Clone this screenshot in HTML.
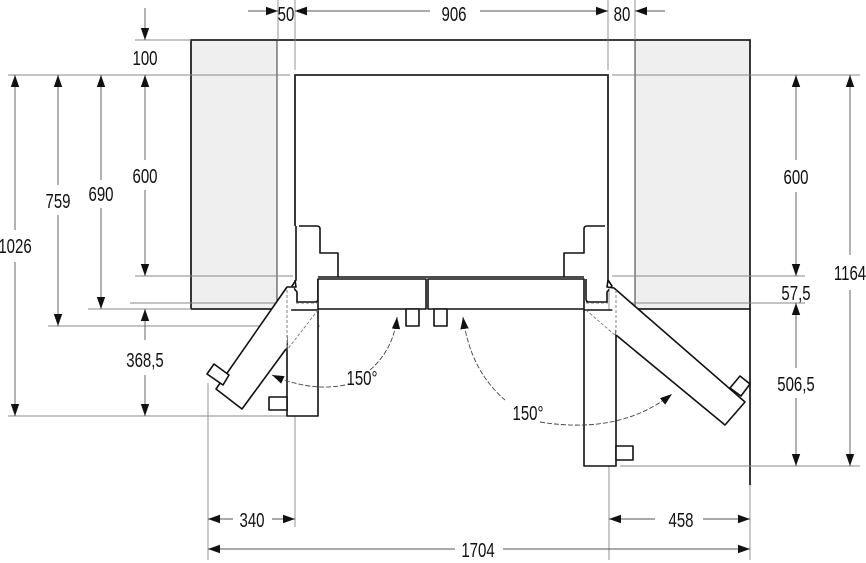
<!DOCTYPE html>
<html><head><meta charset="utf-8"><style>
html,body{margin:0;padding:0;background:#fff;}
svg{display:block;}
text{font-family:"Liberation Sans",sans-serif;font-size:20px;fill:#111;}
</style></head><body>
<svg width="866" height="563" viewBox="0 0 866 563" xmlns="http://www.w3.org/2000/svg">
<defs>
<marker id="a" viewBox="0 0 10 10" refX="10" refY="5" markerWidth="12" markerHeight="12" markerUnits="userSpaceOnUse" orient="auto-start-reverse"><path d="M0,1.5 L10,5 L0,8.5 z" fill="#111"/></marker>
</defs>
<rect x="191" y="40" width="86" height="269" fill="#efefef"/>
<rect x="635" y="40" width="115" height="269" fill="#efefef"/>
<g stroke="#222" stroke-width="1.8" fill="none">
<path d="M191,309 V40 H750 V485"/>
<line x1="191" y1="309" x2="287" y2="309"/>
<line x1="616" y1="309" x2="750" y2="309"/>
<path d="M295,226 V75 H608 V226"/>
</g>
<line x1="277" y1="40" x2="277" y2="309" stroke="#333" stroke-width="1"/>
<line x1="635" y1="40" x2="635" y2="309" stroke="#333" stroke-width="1"/>
<g stroke="#888" stroke-width="0.9" fill="none">
<line x1="8" y1="75" x2="290" y2="75"/><line x1="612" y1="75" x2="860" y2="75"/>
<line x1="135" y1="40" x2="191" y2="40"/>
<line x1="135" y1="276" x2="293" y2="276"/><line x1="612" y1="276" x2="805" y2="276"/>
<line x1="130" y1="303" x2="290" y2="303"/><line x1="612" y1="303" x2="805" y2="303"/>
<line x1="88" y1="309" x2="191" y2="309"/>
<line x1="48" y1="326" x2="320" y2="326"/>
<line x1="8" y1="416" x2="290" y2="416"/>
<line x1="620" y1="466" x2="860" y2="466"/>
<line x1="278" y1="0" x2="278" y2="40"/>
<line x1="295" y1="0" x2="295" y2="70"/>
<line x1="608" y1="0" x2="608" y2="70"/>
<line x1="635" y1="0" x2="635" y2="40"/>
<line x1="208" y1="383" x2="208" y2="560"/>
<line x1="295" y1="310" x2="295" y2="527"/>
<line x1="609" y1="290" x2="609" y2="560"/>
<line x1="750" y1="485" x2="750" y2="560"/>
</g>
<g stroke="#555" stroke-width="0.9" fill="none" marker-end="url(#a)">
<line x1="248" y1="11" x2="278" y2="11"/>
<line x1="325" y1="11" x2="295" y2="11"/>
<line x1="430" y1="11" x2="295" y2="11"/>
<line x1="480" y1="11" x2="608" y2="11"/>
<line x1="665" y1="11" x2="635" y2="11"/>
<line x1="145" y1="8" x2="145" y2="40"/>
<line x1="145" y1="160" x2="145" y2="75"/><line x1="145" y1="190" x2="145" y2="276"/>
<line x1="145" y1="340" x2="145" y2="309"/><line x1="145" y1="375" x2="145" y2="416"/>
<line x1="101" y1="180" x2="101" y2="75"/><line x1="101" y1="208" x2="101" y2="309"/>
<line x1="58" y1="185" x2="58" y2="75"/><line x1="58" y1="215" x2="58" y2="326"/>
<line x1="15" y1="230" x2="15" y2="75"/><line x1="15" y1="262" x2="15" y2="416"/>
<line x1="796" y1="160" x2="796" y2="75"/><line x1="796" y1="192" x2="796" y2="276"/>
<line x1="796" y1="368" x2="796" y2="303"/><line x1="796" y1="398" x2="796" y2="466"/>
<line x1="850" y1="255" x2="850" y2="75"/><line x1="850" y1="290" x2="850" y2="466"/>
<line x1="233" y1="519" x2="208" y2="519"/><line x1="272" y1="519" x2="295" y2="519"/>
<line x1="655" y1="519" x2="609" y2="519"/><line x1="703" y1="519" x2="750" y2="519"/>
<line x1="455" y1="549" x2="208" y2="549"/><line x1="503" y1="549" x2="750" y2="549"/>
</g>
<g stroke="#111" stroke-width="1.6" fill="#fff" stroke-linejoin="round">
<path d="M299,226 H317 Q320,226 320,229 V253 H338 V277"/>
<path d="M296,226 V280 L292,286 L297,292 V302 H315 Q318,302 318,299 V279"/>
<path d="M605,226 H587 Q584,226 584,229 V253 H564 V277"/>
<path d="M608,226 V280 L612,286 L607,292 V302 H589 Q586,302 586,299 V279"/>
<line x1="318" y1="277" x2="584" y2="277"/>
<rect x="318" y="279" width="108" height="30"/>
<rect x="428" y="279" width="156" height="30"/>
<rect x="406" y="309" width="13" height="17"/>
<rect x="434" y="309" width="13" height="17"/>
<rect x="287" y="310" width="31" height="106"/>
<rect x="269" y="397" width="18" height="13"/>
<path d="M295,280 L296,287 L287,287 L216,389 L242,409 L286,349"/>
<path d="M207,374 L214,364 L229,375 L223,385 Z"/>
<rect x="584" y="310" width="32" height="156"/>
<rect x="616" y="446" width="17" height="14"/>
<path d="M608,280 L607,287 L614,288 L745,402 L725,425 L616,335"/>
<path d="M730,388 L740,376 L750,384 L741,396 Z"/>
</g>
<g stroke="#777" stroke-width="0.9" fill="none" stroke-dasharray="3,2">
<line x1="287" y1="290" x2="287" y2="350"/><line x1="296" y1="303" x2="318" y2="303"/>
<line x1="318" y1="310" x2="287" y2="350"/>
<line x1="616" y1="290" x2="616" y2="335"/><line x1="586" y1="303" x2="608" y2="303"/>
<line x1="586" y1="310" x2="616" y2="336"/>
</g>
<g stroke="#444" stroke-width="0.9" fill="none" stroke-dasharray="5,2">
<path d="M397,317 A79,79 0 0 1 370,370" marker-start="url(#a)"/>
<path d="M345,385 Q310,392 272,375" marker-end="url(#a)"/>
<path d="M463,317 Q470,370 505,400" marker-start="url(#a)"/>
<path d="M540,422 Q620,435 672,394" marker-end="url(#a)"/>
</g>
<g text-anchor="middle">
<text transform="translate(286,21) scale(0.75,1)">50</text>
<text transform="translate(454,21) scale(0.75,1)">906</text>
<text transform="translate(622,21) scale(0.75,1)">80</text>
<text transform="translate(145,65) scale(0.75,1)">100</text>
<text transform="translate(145,183) scale(0.75,1)">600</text>
<text transform="translate(101,201) scale(0.75,1)">690</text>
<text transform="translate(58,208) scale(0.75,1)">759</text>
<text transform="translate(15,253) scale(0.75,1)">1026</text>
<text transform="translate(145,367) scale(0.75,1)">368,5</text>
<text transform="translate(796,184) scale(0.75,1)">600</text>
<text transform="translate(850,280) scale(0.75,1)">1164</text>
<text transform="translate(796,300) scale(0.75,1)">57,5</text>
<text transform="translate(796,391) scale(0.75,1)">506,5</text>
<text transform="translate(362,385) scale(0.75,1)">150°</text>
<text transform="translate(528,420) scale(0.75,1)">150°</text>
<text transform="translate(252,527) scale(0.75,1)">340</text>
<text transform="translate(681,527) scale(0.75,1)">458</text>
<text transform="translate(478,557) scale(0.75,1)">1704</text>
</g>
</svg>
</body></html>
